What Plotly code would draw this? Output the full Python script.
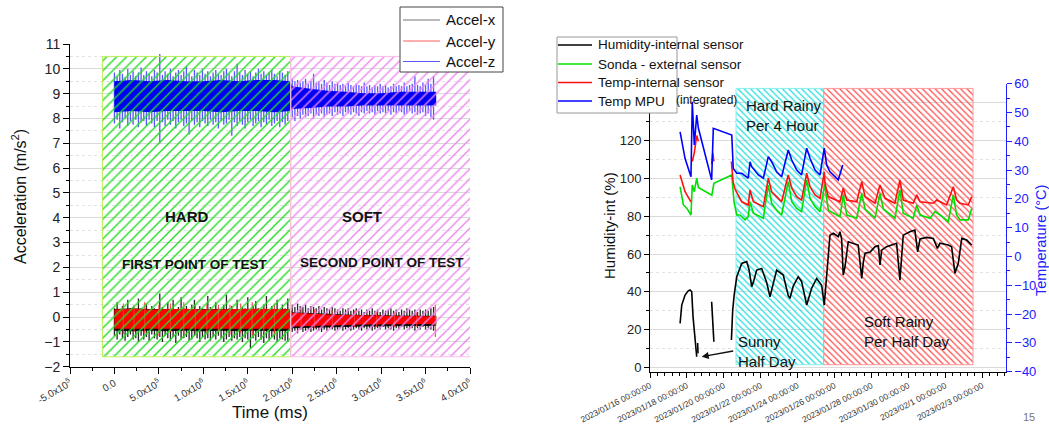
import pandas as pd
import plotly.graph_objects as go

W, H = 1049, 430
FONT = "Liberation Sans, Arial, sans-serif"

# ================= LEFT PANEL: acceleration =================
# time values in units of 1e5 ms
acc_band_t = [0, 2, 4, 6, 8, 10, 12, 14, 16, 18, 19.8, 20.0, 22, 24, 26, 28, 30, 32, 34, 36.2]
z_core_hi = [9.5, 9.55, 9.5, 9.55, 9.5, 9.5, 9.55, 9.5, 9.55, 9.55, 9.5, 9.3, 9.2, 9.12, 9.08, 9.02, 9.02, 9.08, 9.08, 9.08]
z_core_lo = [8.25, 8.3, 8.25, 8.3, 8.3, 8.3, 8.25, 8.3, 8.3, 8.25, 8.3, 8.38, 8.42, 8.48, 8.48, 8.52, 8.52, 8.52, 8.52, 8.52]
y_core_hi = [0.3, 0.33, 0.3, 0.31, 0.33, 0.3, 0.32, 0.31, 0.33, 0.32, 0.31, 0.17, 0.13, 0.1, 0.08, 0.06, 0.04, 0.04, 0.03, 0.03]
y_core_lo = [-0.47, -0.49, -0.47, -0.47, -0.49, -0.47, -0.49, -0.47, -0.49, -0.47, -0.47, -0.38, -0.36, -0.34, -0.32, -0.3, -0.3, -0.28, -0.28, -0.28]
x_core_hi = [0.32, 0.35, 0.32, 0.32, 0.35, 0.32, 0.35, 0.32, 0.35, 0.32, 0.32, 0.19, 0.15, 0.12, 0.1, 0.08, 0.06, 0.06, 0.05, 0.05]
x_core_lo = [-0.55, -0.57, -0.55, -0.57, -0.55, -0.57, -0.55, -0.57, -0.55, -0.57, -0.55, -0.45, -0.43, -0.41, -0.4, -0.38, -0.38, -0.36, -0.36, -0.36]

# sampled extremes of the noisy signals: hard segment starts at t=0, soft at t=20 (1e5 ms), step 0.3
spk_step = 0.3
spk_hard_start, spk_soft_start = 0.0, 20.0
z_hard_hi = [9.85, 9.7, 9.95, 9.8, 9.65, 10.0, 9.75, 9.9, 9.7, 9.85, 10.05, 9.75, 9.9, 9.8, 9.7, 9.95, 9.85, 10.6, 9.75, 9.9,
             9.8, 10.0, 9.7, 9.85, 9.95, 9.75, 9.9, 10.1, 9.8, 9.7, 9.95, 9.85, 9.75, 10.0, 9.8, 9.9, 9.7, 9.85, 9.95, 9.8,
             9.75, 9.9, 10.0, 9.8, 9.7, 9.9, 10.2, 9.85, 9.75, 9.95, 9.8, 9.9, 9.7, 9.85, 10.0, 9.8, 9.9, 9.75, 9.85, 9.95,
             9.8, 9.7, 9.9, 9.85, 9.75, 9.9]
z_hard_lo = [7.8, 7.95, 7.6, 7.85, 8.0, 7.7, 7.9, 7.75, 7.95, 7.65, 7.85, 7.9, 7.7, 7.95, 7.8, 7.65, 7.9, 7.0, 7.85, 7.7,
             7.95, 7.75, 7.9, 7.6, 7.85, 7.95, 7.7, 7.8, 7.35, 7.9, 7.75, 7.85, 7.65, 7.9, 7.8, 7.7, 7.95, 7.75, 7.85, 7.6,
             7.9, 7.75, 7.8, 7.95, 7.3, 7.85, 7.7, 7.9, 7.75, 7.6, 7.85, 7.95, 7.7, 7.8, 7.9, 7.65, 7.85, 7.75, 7.95, 7.7,
             7.8, 7.9, 7.65, 7.85, 7.75, 7.9]
z_soft_hi = [9.6, 9.5, 9.55, 9.45, 9.5, 9.6, 9.4, 9.5, 9.8, 9.45, 9.5, 9.4, 9.55, 9.45, 9.35, 9.5, 9.4, 9.45, 9.35, 9.4,
             9.3, 9.45, 9.35, 9.3, 9.4, 9.35, 9.3, 9.45, 9.3, 9.35, 9.25, 9.35, 9.3, 9.4, 9.3, 9.35, 9.25, 9.3, 9.4, 9.3,
             9.35, 9.3, 9.45, 9.3, 9.35, 9.4, 9.7, 9.35, 9.3, 9.45, 9.35, 9.6, 9.4, 9.7]
z_soft_lo = [8.05, 7.9, 8.1, 8.0, 8.15, 8.05, 8.1, 8.2, 8.0, 8.15, 8.1, 8.2, 8.05, 8.15, 8.2, 8.1, 8.25, 8.15, 8.2, 8.1,
             8.25, 8.2, 8.15, 8.25, 8.2, 8.1, 8.25, 8.2, 8.3, 8.2, 8.25, 8.15, 8.3, 8.2, 8.25, 8.2, 8.3, 8.15, 8.25, 8.2,
             8.3, 8.25, 8.15, 8.2, 8.3, 8.2, 8.25, 8.15, 8.2, 8.25, 8.1, 8.2, 8.05, 7.95]
x_hard_hi = [0.35, 0.6, 0.3, 0.45, 0.3, 0.7, 0.35, 0.4, 0.3, 0.75, 0.35, 0.3, 0.55, 0.3, 0.45, 0.35, 0.3, 0.95, 0.4, 0.3,
             0.6, 0.35, 0.7, 0.3, 0.4, 0.8, 0.35, 0.45, 0.3, 0.5, 0.7, 0.3, 0.45, 0.35, 0.3, 0.85, 0.4, 0.3, 0.6, 0.35,
             0.3, 0.5, 0.9, 0.35, 0.45, 0.3, 0.7, 0.3, 0.4, 0.35, 0.8, 0.3, 0.45, 0.65, 0.35, 0.3, 0.5, 0.85, 0.3, 0.45,
             0.35, 0.7, 0.3, 0.5, 0.35, 0.75]
x_hard_lo = [-0.75, -0.9, -0.7, -0.85, -0.95, -0.8, -0.7, -0.9, -0.85, -1.0, -0.75, -0.9, -0.8, -0.95, -0.7, -0.85, -0.9, -0.8, -1.0, -0.75,
             -0.85, -0.95, -0.8, -1.05, -0.75, -0.9, -0.85, -0.8, -0.95, -0.9, -0.75, -0.85, -1.0, -0.8, -0.9, -0.85, -0.95, -0.8, -0.9, -0.75,
             -0.85, -1.0, -0.9, -0.8, -0.95, -0.85, -0.9, -0.8, -1.0, -0.85, -0.9, -1.25, -0.85, -0.95, -0.8, -0.9, -1.05, -0.85, -0.95, -0.8,
             -0.9, -1.0, -0.85, -0.9, -0.95, -1.0]
x_soft_hi = [0.5, 0.4, 0.55, 0.45, 0.4, 0.5, 0.35, 0.45, 0.4, 0.35, 0.45, 0.3, 0.4, 0.35, 0.3, 0.4, 0.35, 0.3, 0.25, 0.35,
             0.3, 0.35, 0.25, 0.3, 0.35, 0.25, 0.3, 0.2, 0.3, 0.25, 0.35, 0.25, 0.3, 0.2, 0.3, 0.25, 0.3, 0.35, 0.25, 0.3,
             0.2, 0.3, 0.25, 0.35, 0.3, 0.25, 0.3, 0.2, 0.3, 0.25, 0.3, 0.25, 0.35, 0.4]
x_soft_lo = [-0.6, -0.55, -0.65, -0.5, -0.6, -0.55, -0.5, -0.6, -0.55, -0.5, -0.55, -0.6, -0.5, -0.55, -0.45, -0.5, -0.55, -0.5, -0.45, -0.55,
             -0.5, -0.45, -0.55, -0.5, -0.45, -0.5, -0.55, -0.45, -0.5, -0.45, -0.55, -0.5, -0.45, -0.5, -0.4, -0.5, -0.45, -0.5, -0.55, -0.45,
             -0.5, -0.4, -0.5, -0.45, -0.5, -0.45, -0.55, -0.45, -0.5, -0.4, -0.5, -0.45, -0.5, -0.55]

y_spk_t = [1.0, 2.2, 3.4, 5.0, 6.3, 7.8, 9.1, 10.4, 11.7, 13.0, 14.2, 15.5, 16.8, 18.0, 19.8, 21.0, 22.5, 24.5, 27.0, 29.5, 31.5, 34.0, 36.1]
y_spk_lo = [-0.7, -0.6, -0.65, -0.75, -0.6, -0.7, -0.65, -0.65, -0.6, -0.7, -0.65, -0.75, -0.6, -0.7, -0.6, -0.5, -0.45, -0.42, -0.4, -0.4, -0.4, -0.38, -0.8]
y_spk_hi = [0.55, 0.5, 0.6, 0.5, 0.55, 0.6, 0.5, 0.55, 0.5, 0.5, 0.55, 0.6, 0.5, 0.55, 1.0, 0.35, 0.3, 0.25, 0.25, 0.2, 0.2, 0.18, 0.5]

# hatched test regions (t in 1e5 ms, acceleration)
hard_region = [-1.36, 19.83, -1.6, 10.5]
soft_region = [19.83, 40.9, -1.6, 10.5]

acc_tickvals = [-5e5, 0, 5e5, 1e6, 1.5e6, 2e6, 2.5e6, 3e6, 3.5e6, 4e6]
acc_ticktext = ["-5.0x10<sup>5</sup>", "0.0", "5.0x10<sup>5</sup>", "1.0x10<sup>6</sup>", "1.5x10<sup>6</sup>",
                "2.0x10<sup>6</sup>", "2.5x10<sup>6</sup>", "3.0x10<sup>6</sup>", "3.5x10<sup>6</sup>",
                "4.0x10<sup>6</sup>"]
legend1_names = ["Accel-x", "Accel-y", "Accel-z"]
legend1_colors = ["#777777", "#ff6060", "#5a5aff"]

# ================= RIGHT PANEL: humidity / temperature =================
# time as days after 2023/01/16 00:00:00 ; None = gap in record
hum_day = [1.63, 1.66, 1.72, 1.90, 2.07, 2.17, 2.26, 2.33, 2.44, 2.53, None, 2.58, 2.60, None, 3.34, 3.40, 3.46, None,
           4.41, 4.48, 4.56, 4.70, 4.97, 5.24, 5.36, 5.51, 5.60, 5.78, 6.05, 6.32, 6.50, 6.68, 6.86, 7.22, 7.49,
           7.58, 7.76, 8.03, 8.21, 8.49, 8.76, 9.03, 9.30, 9.44, 9.53, 9.75, 9.93, 10.20, 10.29, 10.38, 10.47, 10.56,
           10.74, 11.01, 11.28, 11.47, 11.56, 11.65, 11.92, 12.19, 12.37, 12.46, 12.55, 12.82, 13.09, 13.36, 13.54,
           13.72, 14.08, 14.35, 14.50, 14.63, 14.99, 15.35, 15.57, 15.71, 16.16, 16.34, 16.52, 16.70, 16.89, 17.16,
           17.43]
hum_val = [23.3, 28, 33, 38.3, 40.5, 41, 40, 27, 14.5, 5.6, None, 12.9, 7.4, None, 34.7, 24, 13.6, None,
           14.5, 30.3, 38.3, 48, 55, 56, 52, 42.7, 45, 51.5, 52.4, 45, 37.4, 45, 51.5, 48.9, 38,
           36.5, 43, 48, 45.5, 33, 42, 47.1, 43.5, 33, 45, 70, 71, 69.2, 71.8, 68, 48.9, 53,
           66.5, 65.5, 64.8, 47.1, 56, 60.4, 61, 63.9, 64.5, 54.2, 62.1, 63.9, 64.8, 65.7, 46.2,
           70, 71.8, 72.7, 61.2, 68, 68.8, 68.3, 63, 65.7, 64.8, 63.9, 49.8, 55, 68.3, 67.4,
           64.8]

sonda_day = [1.63, 1.81, 2.00, 2.22, 2.29, 2.40, 2.53, 2.62, 3.35, 3.46, 4.43, 4.55, 4.70, 4.88, 5.15, 5.32, 5.42,
             5.60, 6.14, 6.41, 6.59, 6.86, 7.13, 7.49, 7.68, 7.95, 8.21, 8.49, 8.67, 8.94, 9.21, 9.47, 9.66, 10.11,
             10.29, 10.47, 10.66, 11.20, 11.47, 11.65, 12.19, 12.46, 12.64, 13.27, 13.54, 13.72, 14.26, 14.45,
             14.63, 15.17, 15.44, 15.80, 16.16, 16.43, 16.61, 16.79, 17.24, 17.43]
sonda_val = [24.2, 17.9, 16.7, 14.4, 24.8, 22.5, 27.2, 24, 21.3, 25.4, 28.3, 19, 14.4, 14.4, 12.7, 13.8, 19,
             15, 13.3, 24.8, 18.5, 16.1, 14.4, 26, 19, 16.7, 15.6, 26.6, 20.2, 17.3, 15.6, 25, 16.1, 14.4,
             13.8, 21.4, 14.4, 13.3, 21.9, 16.5, 13.3, 21.9, 16.5, 13.3, 23.1, 15, 13.3, 17.9,
             14.4, 13.3, 15.6, 14, 12.1, 21.4, 14.4, 12.7, 12.7, 16.7]

tint_day = [1.63, 1.90, 2.22, None, 2.29, 2.40, 2.53, 2.62, None, 3.34, 3.40, 3.46, None, 4.41, 4.50, 4.60, 4.97,
            5.32, 5.42, 5.60, 6.14, 6.41, 6.59, 6.86, 7.13, 7.49, 7.68, 7.95, 8.21, 8.49, 8.67, 8.94, 9.21, 9.44,
            9.48, 9.66, 10.11, 10.29, 10.47, 10.66, 11.20, 11.47, 11.65, 12.19, 12.46, 12.73, 13.27, 13.54, 13.72,
            14.26, 14.45, 14.63, 15.35, 15.53, 16.07, 16.43, 16.61, 16.79, 17.24, 17.43]
tint_val = [28.3, 22.5, 19, None, 33, 36, 42, 40, None, 32, 36, 33, None, 33, 26, 23.5, 19,
            17.9, 23.1, 19, 17.3, 27.2, 22.5, 20.8, 19, 28.3, 23.7, 20.8, 19.6, 28.9, 24.2, 21.4, 20.2, 29.4,
            25.4, 20.8, 19.6, 19, 23.7, 19.6, 19, 26, 20.8, 18.5, 24.8, 20.2, 18.5, 26.6, 19.6,
            18.5, 21.4, 19, 18.5, 19.6, 17.9, 24.2, 19.6, 18.5, 17.9, 20.8]

mpu_day = [1.63, 1.90, 2.22, 2.29, 2.40, 2.53, 2.62, 3.34, 3.43, 4.43, 4.51, 4.70, 4.97, 5.32, 5.42, 5.51, 5.87,
           6.14, 6.41, 6.59, 6.86, 7.13, 7.49, 7.68, 7.95, 8.21, 8.49, 8.67, 8.94, 9.21, 9.44, 9.57, 9.75, 10.20,
           10.44]
mpu_val = [43.3, 34, 27.7, 53.7, 38.7, 49.1, 44.6, 26.6, 44.5, 42.2, 30.6, 28.9, 28.9, 27.2, 32.9, 31.2, 28.3,
           27.2, 34.7, 32.9, 29.4, 27.7, 37, 33.5, 30, 28.3, 37.6, 34.1, 30, 28.3, 37.6, 31.8, 29.4, 26.6,
           31.8]

# hatched weather regions: [start day, end day, humidity low, humidity high]
hard_rain_region = [4.66, 9.41, 1.4, 147.7]
soft_rain_region = [9.41, 17.5, 1.4, 147.7]

date_tickvals = ["2023-01-16", "2023-01-18", "2023-01-20", "2023-01-22", "2023-01-24", "2023-01-26",
                 "2023-01-28", "2023-01-30", "2023-02-01", "2023-02-03"]
date_ticktext = ["2023/01/16 00:00:00", "2023/01/18 00:00:00", "2023/01/20 00:00:00", "2023/01/22 00:00:00",
                 "2023/01/24 00:00:00", "2023/01/26 00:00:00", "2023/01/28 00:00:00", "2023/01/30 00:00:00",
                 "2023/02/1 00:00:00", "2023/02/3 00:00:00"]
hum_tickvals = [0, 20, 40, 60, 80, 100, 120, 140]
hum_ticktext = ["0", "20", "40", "60", "80", "100", "120", ""]   # 140 hidden behind the legend box

legend2_names = ["Humidity-internal sensor", "Sonda - external sensor", "Temp-internal sensor", "Temp MPU"]
legend2_colors = ["black", "#00e000", "#ff1010", "#0000ff"]

BASE = pd.Timestamp("2023-01-16")


def to_dates(days):
    return [None if d is None else BASE + pd.to_timedelta(d, unit="D") for d in days]


def ms(vals):
    return [v * 1e5 for v in vals]


def band(t, hi, lo):
    tt = ms(t)
    return tt + tt[::-1] + [tt[0]], hi + lo[::-1] + [hi[0]]


def spikes(t, lo, hi):
    xs, ys = [], []
    for a, b, c in zip(ms(t), lo, hi, strict=True):
        xs += [a, a, None]
        ys += [b, c, None]
    return xs, ys


def sampled_spikes(lo_h, hi_h, lo_s, hi_s):
    t = [spk_hard_start + i * spk_step for i in range(len(hi_h))] + \
        [spk_soft_start + i * spk_step for i in range(len(hi_s))]
    return spikes(t, lo_h + lo_s, hi_h + hi_s)


def px_x(p):
    return p / W


def px_y(p):
    return 1 - p / H


fig = go.Figure()

# ---- left data ----
sx, sy = sampled_spikes(x_hard_lo, x_hard_hi, x_soft_lo, x_soft_hi)
fig.add_trace(go.Scatter(x=sx, y=sy, mode="lines", line=dict(color="rgba(0,0,0,0.85)", width=1.3),
                         name="Accel-x", showlegend=False, xaxis="x", yaxis="y"))
bx, by = band(acc_band_t, x_core_hi, x_core_lo)
fig.add_trace(go.Scatter(x=bx, y=by, fill="toself", mode="lines", line=dict(width=0),
                         fillcolor="rgba(0,0,0,0.9)", showlegend=False, hoverinfo="skip", xaxis="x", yaxis="y"))
bx, by = band(acc_band_t, y_core_hi, y_core_lo)
fig.add_trace(go.Scatter(x=bx, y=by, fill="toself", mode="lines", line=dict(width=0),
                         fillcolor="rgb(255,0,0)", showlegend=False, hoverinfo="skip", xaxis="x", yaxis="y"))
sx, sy = spikes(y_spk_t, y_spk_lo, y_spk_hi)
fig.add_trace(go.Scatter(x=sx, y=sy, mode="lines", line=dict(color="rgba(255,50,50,0.85)", width=1.2),
                         name="Accel-y", showlegend=False, xaxis="x", yaxis="y"))
sx, sy = sampled_spikes(z_hard_lo, z_hard_hi, z_soft_lo, z_soft_hi)
fig.add_trace(go.Scatter(x=sx, y=sy, mode="lines", line=dict(color="rgba(30,30,255,0.75)", width=1.3),
                         name="Accel-z", showlegend=False, xaxis="x", yaxis="y"))
bx, by = band(acc_band_t, z_core_hi, z_core_lo)
fig.add_trace(go.Scatter(x=bx, y=by, fill="toself", mode="lines", line=dict(width=0),
                         fillcolor="rgb(0,0,245)", showlegend=False, hoverinfo="skip", xaxis="x", yaxis="y"))


def hatch(region, shape, fg, border, size, sol, xa, ya, dates=False):
    x0, x1, y0, y1 = region
    xs = [x0, x1, x1, x0, x0]
    xs = to_dates(xs) if dates else ms(xs)
    return go.Scatter(x=xs, y=[y0, y0, y1, y1, y0], fill="toself", mode="lines",
                      line=dict(color=border, width=1), fillcolor="rgba(0,0,0,0)",
                      fillpattern=dict(shape=shape, fgcolor=fg, bgcolor="rgba(0,0,0,0)", size=size,
                                       solidity=sol, fillmode="replace"),
                      showlegend=False, hoverinfo="skip", xaxis=xa, yaxis=ya)


# hatch drawn over the acceleration data
fig.add_trace(hatch(hard_region, "/", "#22dd22", "#bbee55", 7, 0.2, "x", "y"))
fig.add_trace(hatch(soft_region, "/", "#ee88ee", "#ffbbee", 7, 0.2, "x", "y"))

# ---- right panel ----
fig.add_trace(hatch(hard_rain_region, "\\", "#22dddd", "#88eeee", 4.5, 0.28, "x2", "y2", dates=True))
fig.add_trace(hatch(soft_rain_region, "\\", "#ff4848", "#ff9999", 4.5, 0.26, "x2", "y2", dates=True))

right_series = [(hum_day, hum_val, "y2"), (sonda_day, sonda_val, "y3"), (tint_day, tint_val, "y3"),
                (mpu_day, mpu_val, "y3")]
for (d, v, ya), name, col in zip(right_series, legend2_names, legend2_colors):
    fig.add_trace(go.Scatter(x=to_dates(d), y=v, mode="lines", line=dict(color=col, width=1.6),
                             name=name, showlegend=False, xaxis="x2", yaxis=ya))

AX = dict(showline=True, linecolor="black", linewidth=1, ticks="outside", ticklen=6, tickcolor="black",
          zeroline=False, automargin=False)
GRID = dict(showgrid=True, gridcolor="#dadada", gridwidth=1)


def axis(*parts, **kw):
    out = {}
    for p in parts:
        out.update(p)
    out.update(kw)
    return out


fig.update_layout(
    width=W, height=H, autosize=False, template="none", showlegend=False,
    margin=dict(l=0, r=0, t=0, b=0), paper_bgcolor="white", plot_bgcolor="white",
    font=dict(family=FONT, color="#222"),
    xaxis=axis(AX, domain=[px_x(70), px_x(470)], range=[-5e5, 4e6], tickvals=acc_tickvals,
               ticktext=acc_ticktext, tickangle=-30, tickfont=dict(family=FONT, size=10, color="#333"),
               showgrid=False, anchor="y",
               minor=dict(ticks="outside", ticklen=3, dtick=2.5e5, tick0=0, tickcolor="black", showgrid=False)),
    yaxis=axis(AX, GRID, domain=[px_y(366.7), px_y(44)], range=[-2, 11], dtick=1, tick0=0,
               tickfont=dict(family=FONT, size=14, color="#222"), anchor="x",
               minor=dict(ticks="outside", ticklen=3, dtick=0.5, tick0=0, tickcolor="black", showgrid=True,
                          gridcolor="#e2e2e2", griddash="dot")),
    xaxis2=axis(AX, type="date", domain=[px_x(650), px_x(1005.7)],
                range=[BASE, BASE + pd.to_timedelta(19.27, unit="D")], tickvals=date_tickvals,
                ticktext=date_ticktext, tickangle=-27, ticklen=5,
                tickfont=dict(family=FONT, size=8.5, color="#333"), showgrid=False, anchor="y2",
                minor=dict(ticks="outside", ticklen=3, dtick=0.4 * 86400000, tick0="2023-01-16",
                           tickcolor="black", showgrid=False)),
    yaxis2=axis(AX, GRID, domain=[px_y(371.7), px_y(83.7)], range=[-2.3, 150.2], tickvals=hum_tickvals,
                ticktext=hum_ticktext, ticklen=5, tickfont=dict(family=FONT, size=13, color="#222"),
                anchor="x2",
                minor=dict(ticks="outside", ticklen=3, dtick=10, tick0=0, tickcolor="black", showgrid=True,
                           gridcolor="#e2e2e2", griddash="dot")),
    yaxis3=axis(AX, overlaying="y2", side="right", anchor="x2", range=[-40, 60], dtick=10, tick0=0,
                linecolor="#2020ff", tickcolor="#2020ff", ticklen=5, showgrid=False,
                tickfont=dict(family=FONT, size=13, color="#2020ff"),
                minor=dict(ticks="outside", ticklen=3, dtick=5, tick0=0, tickcolor="#2020ff", showgrid=False)),
)

ann = []


def text(x, y, s, size, color="#111", bold=False, angle=0, xanchor="center", align="center"):
    ann.append(dict(x=px_x(x), y=px_y(y), xref="paper", yref="paper", text=f"<b>{s}</b>" if bold else s,
                    showarrow=False, textangle=angle, xanchor=xanchor, yanchor="middle", align=align,
                    font=dict(family=FONT, size=size, color=color)))


def legend_box(x0, x1, y0, y1, border, rows, names, colors, lx0, lx1, tx, size, lw):
    fig.add_shape(type="rect", xref="paper", yref="paper", x0=px_x(x0), x1=px_x(x1), y0=px_y(y1), y1=px_y(y0),
                  fillcolor="white", line=dict(color=border, width=1), layer="above")
    for row, name, col in zip(rows, names, colors):
        fig.add_shape(type="line", xref="paper", yref="paper", x0=px_x(lx0), x1=px_x(lx1), y0=px_y(row),
                      y1=px_y(row), line=dict(color=col, width=lw), layer="above")
        text(tx, row, name, size, xanchor="left")


# legends (the right one is narrower than its texts, as in the original)
legend_box(400, 503, 7, 72, "#444", [20, 41, 61.5], legend1_names, legend1_colors, 403, 440, 444, 15, 1.1)
legend_box(557, 677, 37, 113, "#999", [45, 64, 82.5, 101], legend2_names, legend2_colors, 558, 592, 596, 13.5, 1.6)

text(270, 412, "Time (ms)", 17)
text(19, 197, "Acceleration (m/s<sup>2</sup>)", 16, angle=-90)
text(186.5, 216.7, "HARD", 15, bold=True)
text(362, 216.7, "SOFT", 15, bold=True)
text(195, 264, "FIRST POINT OF TEST", 13.5, bold=True)
text(381.7, 262, "SECOND POINT OF TEST", 13.5, bold=True)
text(609, 226, "Humidity-int (%)", 15, angle=-90)
text(1041, 241, "Temperature (°C)", 14.5, color="#2020ff", angle=-90)
text(674, 100, "(integrated)", 12, xanchor="left")
text(744, 115, "Hard Rainy<br>Per 4 Hour", 15, xanchor="left", align="left")
text(736, 351, "Sunny<br>Half Day", 15, xanchor="left", align="left")
text(861.5, 331.5, "Soft Rainy<br>Per Half Day", 15, xanchor="left", align="left")
text(1029, 417, "15", 11, color="#777")
ann.append(dict(x=px_x(701.7), y=px_y(356.7), xref="paper", yref="paper", text="", showarrow=True,
                ax=33, ay=-6, arrowhead=2, arrowsize=1, arrowwidth=1.4, arrowcolor="#111"))
fig.update_layout(annotations=ann)

fig.write_html("out.html", config={"displayModeBar": False},
               post_script="document.body.style.margin='0px';")
